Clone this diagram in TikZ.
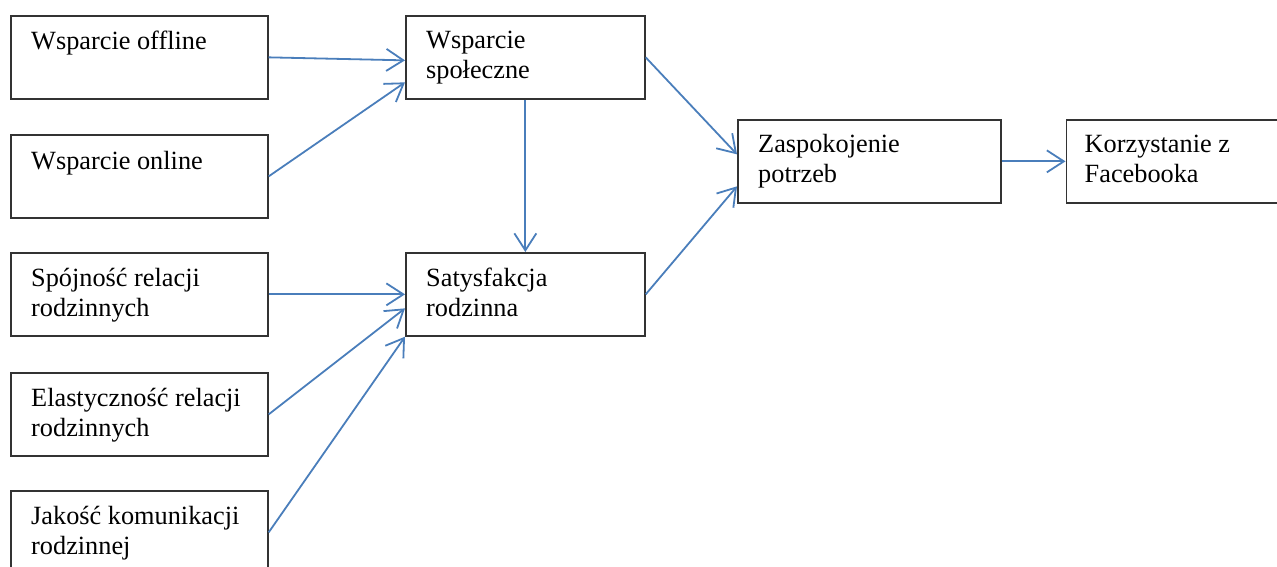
\documentclass[tikz,border=0pt]{standalone}
\usepackage{fontspec}
\setmainfont{Liberation Serif}
\usetikzlibrary{arrows.meta,calc}
\newcommand{\mytwo}[2]{\vtop{\hbox{#1}\hbox{#2}}}
\tikzset{
  box/.style={draw=black!80, line width=1.7pt, anchor=north west, inner sep=0pt, minimum height=83pt},
  txt/.style={anchor=base west, inner sep=0pt, font=\fontsize{26.3}{30}\selectfont},
  conn/.style={draw={rgb,255:red,74;green,126;blue,187}, line width=1.8pt, -{Straight Barb[length=17pt,width=22pt]}}
}
\begin{document}
\begin{tikzpicture}[x=1pt,y=-1pt]
\clip (0,0) rectangle (1277,567);
% boxes
\node[box, minimum width=257pt] (off) at (10,15) {};
\node[box, minimum width=257pt] (onl) at (10,134) {};
\node[box, minimum width=257pt] (spo) at (10,252) {};
\node[box, minimum width=257pt] (ela) at (10,372) {};
\node[box, minimum width=257pt] (jak) at (10,490) {};
\node[box, minimum width=239pt] (ss) at (405,15) {};
\node[box, minimum width=239pt] (sat) at (405,252) {};
\node[box, minimum width=263pt] (zp) at (737,119) {};
\node[box, minimum width=211pt] (kf) at (1065.5,119) {};
% texts
\node[txt] (toff) at ($(off.north west)+(21,35)$) {Wsparcie offline};
\node[txt] (tonl) at ($(onl.north west)+(21,35)$) {Wsparcie online};
\node[txt] (tspo) at ($(spo.north west)+(21,34)$) {\mytwo{Spójność relacji}{rodzinnych}};
\node[txt] (tela) at ($(ela.north west)+(21,34)$) {\mytwo{Elastyczność relacji}{rodzinnych}};
\node[txt] (tjak) at ($(jak.north west)+(21,34)$) {\mytwo{Jakość komunikacji}{rodzinnej}};
\node[txt] (tss) at ($(ss.north west)+(21,34)$) {\mytwo{Wsparcie}{społeczne}};
\node[txt] (tsat) at ($(sat.north west)+(21,34)$) {\mytwo{Satysfakcja}{rodzinna}};
\node[txt] (tzp) at ($(zp.north west)+(21,34)$) {\mytwo{Zaspokojenie}{potrzeb}};
\node[txt] (tkf) at ($(kf.north west)+(19,34)$) {\mytwo{Korzystanie z}{Facebooka}};
% connectors
\draw[conn] (off.east) -- ($(ss.west)+(0,3)$);
\draw[conn] (onl.east) -- ($(ss.west)+(0,25)$);
\draw[conn] (ss.south) -- (sat.north);
\draw[conn] (ss.east) -- ($(zp.west)+(0,-7)$);
\draw[conn] (sat.east) -- ($(zp.west)+(0,25)$);
\draw[conn] (zp.east) -- (kf.west);
\draw[conn] (spo.east) -- (sat.west);
\draw[conn] (ela.east) -- ($(sat.west)+(0,14)$);
\draw[conn] (jak.east) -- (sat.south west);
\end{tikzpicture}
\end{document}
